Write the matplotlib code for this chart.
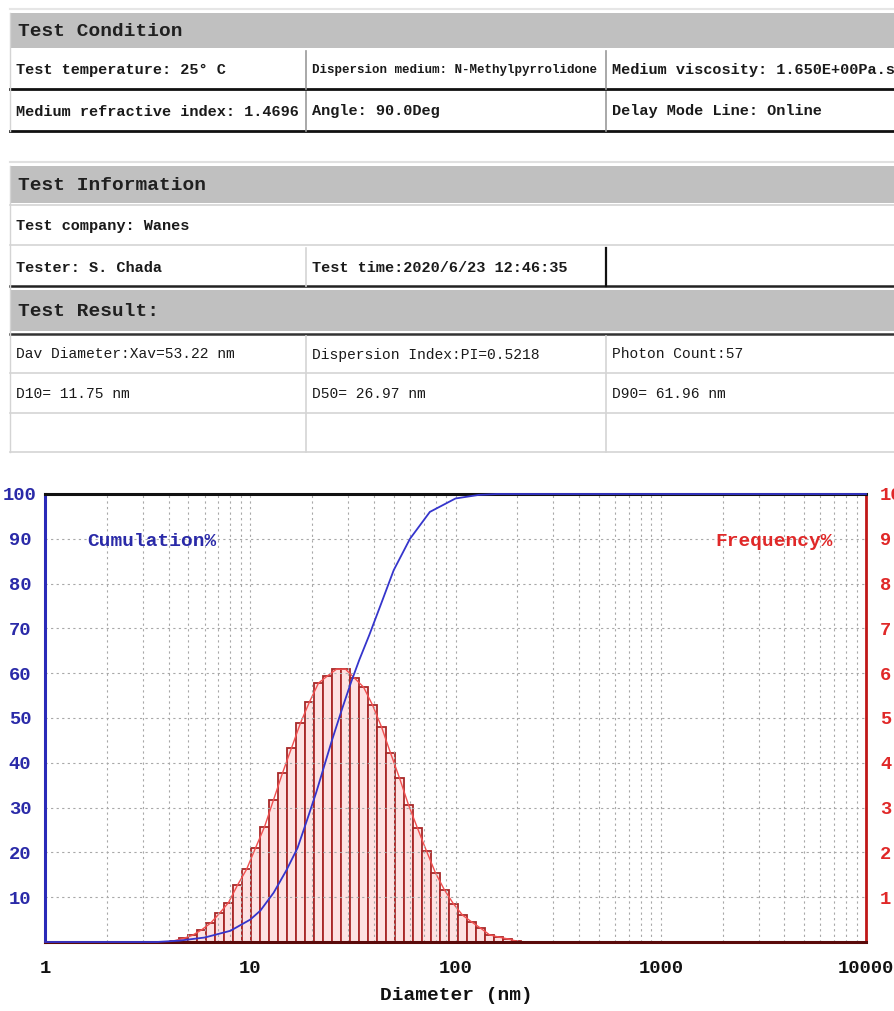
import numpy as np
import matplotlib
matplotlib.use("Agg")
import matplotlib.pyplot as plt
from matplotlib.patches import Rectangle
from matplotlib.lines import Line2D
from matplotlib.ticker import FixedLocator, LogLocator, NullFormatter

# ---- report text ----
condition_header = "Test Condition"
condition_rows = [
    ["Test temperature: 25° C", "Dispersion medium: N-Methylpyrrolidone", "Medium viscosity: 1.650E+00Pa.s"],
    ["Medium refractive index: 1.4696", "Angle: 90.0Deg", "Delay Mode Line: Online"],
]
info_header = "Test Information"
info_company = "Test company: Wanes"
info_row = ["Tester: S. Chada", "Test time:2020/6/23 12:46:35", ""]
result_header = "Test Result:"
result_rows = [
    ["Dav Diameter:Xav=53.22 nm", "Dispersion Index:PI=0.5218", "Photon Count:57"],
    ["D10= 11.75 nm", "D50= 26.97 nm", "D90= 61.96 nm"],
    ["", "", ""],
]

# ---- size distribution ----
bin_edges_nm = [4.06, 4.50, 4.97, 5.50, 6.09, 6.73, 7.45, 8.24, 9.12, 10.09,
                11.16, 12.34, 13.65, 15.10, 16.71, 18.48, 20.45, 22.62, 25.02, 27.68,
                30.62, 33.88, 37.48, 41.46, 45.86, 50.73, 56.12, 62.09, 68.68, 75.98,
                84.05, 92.98, 102.9, 113.8, 125.9, 139.3, 154.1, 170.4, 188.5, 208.6]
frequency_pct = [0.03, 0.08, 0.15, 0.27, 0.42, 0.64, 0.88, 1.27, 1.62, 2.10,
                 2.57, 3.17, 3.77, 4.33, 4.89, 5.36, 5.78, 5.94, 6.09, 6.09,
                 5.89, 5.69, 5.29, 4.80, 4.22, 3.66, 3.06, 2.54, 2.03, 1.54,
                 1.16, 0.85, 0.60, 0.45, 0.31, 0.16, 0.11, 0.07, 0.02]
cum_diam_nm = [1, 3.5, 4.5, 6, 8, 10, 11.2, 13, 15, 17, 19, 21, 23, 25, 28, 31,
               34, 38, 43, 50, 60, 75, 100, 130, 160, 10000]
cum_pct = [0, 0, 0.3, 1, 2.5, 5, 7, 11, 16, 21, 27.5, 33.5, 39.5, 45, 52, 58,
           63, 68.5, 75, 83, 90, 96, 99, 99.8, 100, 100]

x_ticks = [1, 10, 100, 1000, 10000]
left_ticks = [10, 20, 30, 40, 50, 60, 70, 80, 90, 100]
right_ticks = [1, 2, 3, 4, 5, 6, 7, 8, 9, 10]

MONO = "Liberation Mono"
W, H = 894, 1011
fig = plt.figure(figsize=(W / 100, H / 100), dpi=100)


def fx(x):
    return x / W


def fy(y):
    return 1 - y / H


def box(x0, y0, x1, y1, color):
    fig.add_artist(Rectangle((fx(x0), fy(y1)), fx(x1) - fx(x0), fy(y0) - fy(y1),
                             transform=fig.transFigure, facecolor=color,
                             edgecolor="none"))


def hline(x0, x1, y, color, lw=1.0):
    fig.add_artist(Line2D([fx(x0), fx(x1)], [fy(y), fy(y)],
                          transform=fig.transFigure, color=color, lw=lw))


def vline(x, y0, y1, color, lw=1.0):
    fig.add_artist(Line2D([fx(x), fx(x)], [fy(y0), fy(y1)],
                          transform=fig.transFigure, color=color, lw=lw))


def cell_text(x0, x1, yc, s, size=11, weight="bold"):
    t = fig.text(fx(x0 + 6), fy(yc), s, ha="left", va="center", fontsize=size,
                 fontweight=weight, family=MONO, color="#1a1a1a")
    t.set_clip_path(Rectangle((fx(x0), 0), fx(x1) - fx(x0), 1,
                              transform=fig.transFigure))


cols = [10, 306, 606, 894]
GRAY = "#c0c0c0"
LIGHT = "#d4d4d4"

# test condition block
hline(10, 894, 9, "#e6e6e6", 1.5)
box(10, 13, 894, 48, GRAY)
fig.text(fx(18), fy(31), condition_header, ha="left", va="center", fontsize=14,
         fontweight="bold", family=MONO, color="#202020")
for r, (y0, y1) in enumerate([(51, 89), (92, 131)]):
    for c in range(3):
        txt = condition_rows[r][c]
        # long medium name squeezed into its cell
        size = 9.0 if len(txt) > 33 else 11
        cell_text(cols[c], cols[c + 1], (y0 + y1) / 2, txt, size=size)
    hline(10, 894, y1, "#111111", 2.0)
    vline(cols[1], y0, y1, "#999999", 1.2)
    vline(cols[2], y0, y1, "#999999", 1.2)
vline(10, 13, 131, LIGHT, 1.0)

# test information block
hline(10, 894, 162, "#e0e0e0", 1.5)
box(10, 166, 894, 203, GRAY)
fig.text(fx(18), fy(185), info_header, ha="left", va="center", fontsize=14,
         fontweight="bold", family=MONO, color="#202020")
hline(10, 894, 205, LIGHT, 1.2)
cell_text(10, 894, 226, info_company)
hline(10, 894, 245, LIGHT, 1.2)
for c in range(3):
    cell_text(cols[c], cols[c + 1], 268, info_row[c])
hline(10, 894, 286, "#222222", 1.8)
vline(cols[1], 248, 286, LIGHT, 1.2)
vline(cols[2], 248, 286, "#111111", 1.6)

# test result block
box(10, 290, 894, 331, GRAY)
fig.text(fx(18), fy(311), result_header, ha="left", va="center", fontsize=14,
         fontweight="bold", family=MONO, color="#202020")
hline(10, 894, 334, "#333333", 1.8)
for r, (y0, y1) in enumerate([(336, 373), (374, 413), (414, 452)]):
    for c in range(3):
        cell_text(cols[c], cols[c + 1], (y0 + y1) / 2, result_rows[r][c],
                  size=10.5, weight="normal")
    hline(10, 894, y1, LIGHT, 1.2)
    vline(cols[1], y0, y1, LIGHT, 1.2)
    vline(cols[2], y0, y1, LIGHT, 1.2)
vline(10, 166, 452, LIGHT, 1.0)

# ---- distribution chart ----
ax = fig.add_axes([fx(45), fy(942), fx(866) - fx(45), fy(494) - fy(942)])
ax2 = ax.twinx()
# cumulative axes in front so its grid and curve sit over the bars
ax.set_zorder(ax2.get_zorder() + 1)
ax.patch.set_visible(False)

edges = np.array(bin_edges_nm)
freq = np.array(frequency_pct)
ax2.bar(edges[:-1], freq, width=np.diff(edges), align="edge",
        facecolor="#fde2e2", edgecolor="#a82828", linewidth=1.3, zorder=2)
centres = np.sqrt(edges[:-1] * edges[1:])
f_x = np.concatenate([[1, edges[0]], centres, [edges[-1], 10000]])
f_y = np.concatenate([[0, 0], freq, [0, 0]])
ax2.plot(f_x, f_y, color="#f05050", lw=1.0, zorder=3, clip_on=False)
ax2.set_ylim(0, 10)
ax2.yaxis.set_major_locator(FixedLocator(right_ticks))
ax2.tick_params(axis="y", length=0, pad=10, labelcolor="#e02828",
                labelsize=13.5)
for lab in ax2.get_yticklabels():
    lab.set_family(MONO)
    lab.set_fontweight("bold")
for s in ax2.spines.values():
    s.set_visible(False)

ax.set_xscale("log")
ax.set_xlim(1, 10000)
ax.set_ylim(0, 100)
ax.yaxis.set_major_locator(FixedLocator(left_ticks))
ax.xaxis.set_major_locator(FixedLocator(x_ticks))
ax.xaxis.set_minor_locator(LogLocator(base=10, subs=range(2, 10)))
ax.xaxis.set_minor_formatter(NullFormatter())
ax.set_xticklabels([str(t) for t in x_ticks])
ax.grid(True, which="both", axis="x", color="#a8a8a8", ls=(0, (2, 3)), lw=0.8)
ax.grid(True, which="major", axis="y", color="#a8a8a8", ls=(0, (2, 3)), lw=0.8)
ax.tick_params(axis="both", which="both", length=0)
ax.tick_params(axis="y", pad=18, labelcolor="#2a2aa8", labelsize=13.5)
ax.tick_params(axis="x", pad=13, labelcolor="#111111", labelsize=13.5)
for lab in ax.get_yticklabels():
    lab.set_family(MONO)
    lab.set_fontweight("bold")
    lab.set_horizontalalignment("center")
for lab in ax.get_xticklabels():
    lab.set_family(MONO)
    lab.set_fontweight("bold")
ax.plot(cum_diam_nm, cum_pct, color="#3535cc", lw=1.3, zorder=4, clip_on=False)

ax.spines["left"].set_color("#2a2ab8")
ax.spines["left"].set_linewidth(2.2)
ax.spines["top"].set_color("#111111")
ax.spines["top"].set_linewidth(2.2)
ax.spines["bottom"].set_color("#5a0a0a")
ax.spines["bottom"].set_linewidth(2.2)
ax.spines["right"].set_color("#c01818")
ax.spines["right"].set_linewidth(2.0)

ax.text(0.052, 0.895, "Cumulation%", transform=ax.transAxes, ha="left",
        va="center", fontsize=14, fontweight="bold", family=MONO,
        color="#2a2aa8")
ax.text(0.96, 0.895, "Frequency%", transform=ax.transAxes, ha="right",
        va="center", fontsize=14, fontweight="bold", family=MONO,
        color="#e02828")
fig.text(fx(456), fy(996), "Diameter (nm)", ha="center", va="center",
         fontsize=14, fontweight="bold", family=MONO, color="#111111")

fig.savefig("out.png", dpi=100)
